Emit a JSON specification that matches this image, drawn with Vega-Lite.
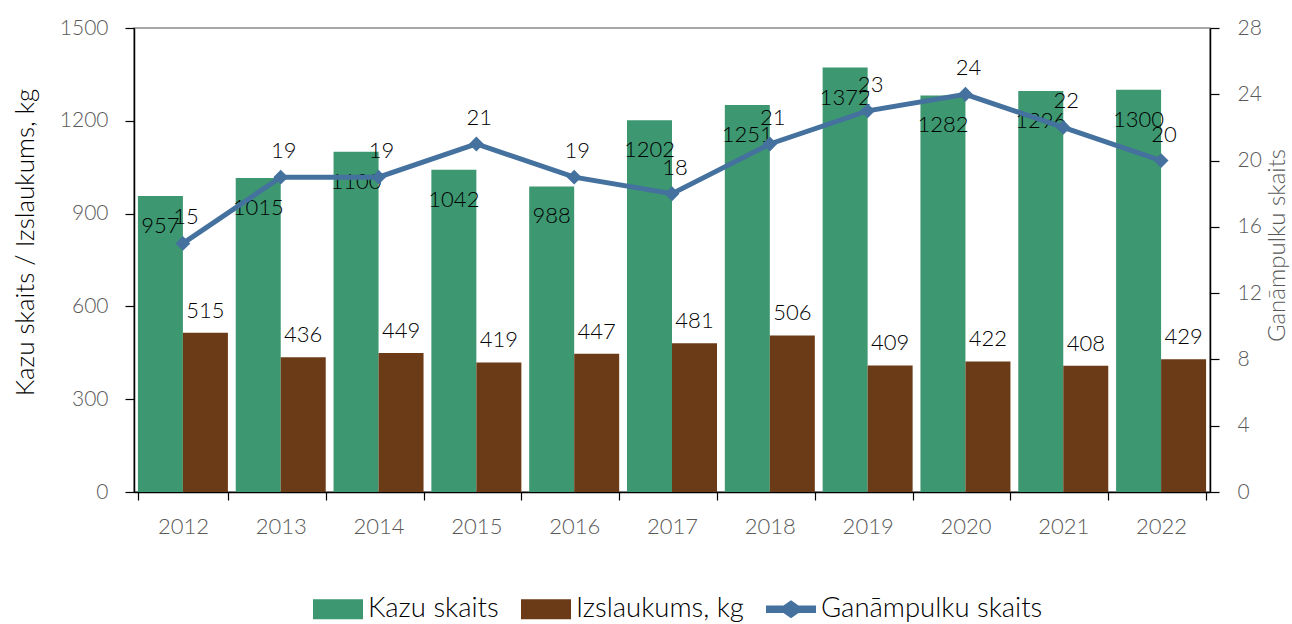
{
  "$schema": "https://vega.github.io/schema/vega-lite/v6.json",
  "width": 1076,
  "height": 464,
  "autosize": {"type": "none"},
  "padding": {"left": 134, "top": 28, "right": 82, "bottom": 132},
  "config": {
    "font": "Lato",
    "view": {"stroke": "#8c8c8c", "strokeWidth": 1.5},
    "axis": {"grid": false}
  },
  "data": {
    "values": [
      {"year": "2012", "kazu": 957, "izsl": 515, "gan": 15},
      {"year": "2013", "kazu": 1015, "izsl": 436, "gan": 19},
      {"year": "2014", "kazu": 1100, "izsl": 449, "gan": 19},
      {"year": "2015", "kazu": 1042, "izsl": 419, "gan": 21},
      {"year": "2016", "kazu": 988, "izsl": 447, "gan": 19},
      {"year": "2017", "kazu": 1202, "izsl": 481, "gan": 18},
      {"year": "2018", "kazu": 1251, "izsl": 506, "gan": 21},
      {"year": "2019", "kazu": 1372, "izsl": 409, "gan": 23},
      {"year": "2020", "kazu": 1282, "izsl": 422, "gan": 24},
      {"year": "2021", "kazu": 1296, "izsl": 408, "gan": 22},
      {"year": "2022", "kazu": 1300, "izsl": 429, "gan": 20}
    ]
  },
  "encoding": {
    "x": {
      "field": "year",
      "type": "ordinal",
      "scale": {"paddingInner": 0.08, "paddingOuter": 0.04},
      "axis": {
        "title": null,
        "labelAngle": 0,
        "tickBand": "extent",
        "domainColor": "#000000",
        "domainWidth": 1.5,
        "tickColor": "#000000",
        "tickWidth": 1.2,
        "tickSize": 8,
        "labelPadding": 16,
        "labelFontSize": 22,
        "labelFontWeight": 300,
        "labelColor": "#595959"
      }
    }
  },
  "layer": [
    {
      "transform": [{"fold": ["kazu", "izsl"], "as": ["key", "value"]}],
      "encoding": {
        "xOffset": {"field": "key", "type": "nominal", "scale": {"domain": ["kazu", "izsl"], "paddingInner": 0, "paddingOuter": 0}},
        "y": {
          "field": "value",
          "type": "quantitative",
          "scale": {"domain": [0, 1500]},
          "axis": {
            "title": "Kazu skaits / Izslaukums, kg",
            "values": [0, 300, 600, 900, 1200, 1500],
            "format": "d",
            "domainColor": "#000000",
            "domainWidth": 1.5,
            "tickColor": "#000000",
            "tickWidth": 1.2,
            "tickSize": 9,
            "labelPadding": 17,
            "labelFontSize": 21,
            "labelFontWeight": 300,
            "labelColor": "#595959",
            "titleFontSize": 26,
            "titleFontWeight": 300,
            "titleColor": "#000000",
            "titleX": -109,
            "titleY": 214,
            "titleAngle": -90,
            "titleAlign": "center",
            "titleBaseline": "middle"
          }
        }
      },
      "layer": [
        {
          "mark": {"type": "bar"},
          "encoding": {
            "color": {
              "field": "key",
              "type": "nominal",
              "scale": {"domain": ["kazu", "izsl", "gan"], "range": ["#3d9770", "#6b3a16", "#44719e"]},
              "legend": {
                "title": null,
                "orient": "none",
                "direction": "horizontal",
                "legendX": 179,
                "legendY": 556,
                "symbolSize": 2500,
                "symbolStrokeWidth": 0,
                "labelFontSize": 27.5,
                "labelFontWeight": 300,
                "labelColor": "#000000",
                "labelOffset": 5,
                "labelLimit": 400,
                "columnPadding": 22,
                "labelExpr": "datum.value == 'kazu' ? 'Kazu skaits' : datum.value == 'izsl' ? 'Izslaukums, kg' : 'Ganāmpulku skaits'",
                "encode": {
                  "symbols": {
                    "update": {
                      "shape": {"signal": "datum.value == 'gan' ? 'M-1,-0.15H-0.3L0,-0.36L0.3,-0.15H1V0.15H0.3L0,0.36L-0.3,0.15H-1Z' : 'M-1,-0.4H1V0.4H-1Z'"}
                    }
                  }
                }
              }
            }
          }
        },
        {
          "transform": [{"filter": "datum.key == 'kazu'"}],
          "mark": {"type": "text", "dy": 30, "fontSize": 22, "fontWeight": 300, "color": "#000000"},
          "encoding": {"text": {"field": "value", "type": "quantitative"}}
        },
        {
          "transform": [{"filter": "datum.key == 'izsl'"}],
          "mark": {"type": "text", "dy": -22, "fontSize": 22, "fontWeight": 300, "color": "#000000"},
          "encoding": {"text": {"field": "value", "type": "quantitative"}}
        }
      ]
    },
    {
      "encoding": {
        "y": {
          "field": "gan",
          "type": "quantitative",
          "scale": {"domain": [0, 28]},
          "axis": {
            "orient": "right",
            "title": "Ganāmpulku skaits",
            "values": [0, 4, 8, 12, 16, 20, 24, 28],
            "domainColor": "#000000",
            "domainWidth": 1.5,
            "tickColor": "#000000",
            "tickWidth": 1.2,
            "tickSize": 9,
            "labelPadding": 18,
            "labelFontSize": 21,
            "labelFontWeight": 300,
            "labelColor": "#595959",
            "titleFontSize": 24,
            "titleFontWeight": 300,
            "titleColor": "#595959",
            "titleX": 67,
            "titleY": 217,
            "titleAngle": -90,
            "titleAlign": "center",
            "titleBaseline": "middle"
          }
        }
      },
      "layer": [
        {"mark": {"type": "line", "color": "#44719e", "strokeWidth": 5}},
        {"mark": {"type": "point", "shape": "diamond", "filled": true, "size": 220, "color": "#44719e", "opacity": 1}},
        {
          "mark": {"type": "text", "dy": -26, "dx": 3, "fontSize": 22, "fontWeight": 300, "color": "#000000"},
          "encoding": {"text": {"field": "gan", "type": "quantitative"}}
        }
      ]
    }
  ],
  "resolve": {"scale": {"y": "independent"}}
}
